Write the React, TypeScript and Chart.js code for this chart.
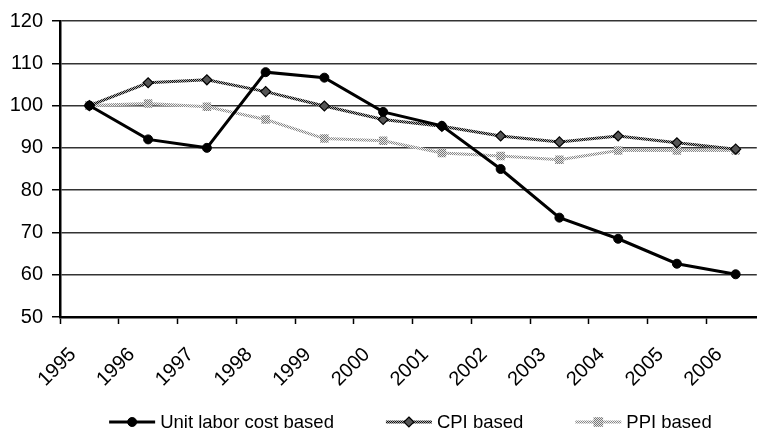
import React, { useEffect, useRef } from "react";
import { Chart, registerables } from "chart.js";

Chart.register(...registerables);

const YEARS = [1995, 1996, 1997, 1998, 1999, 2000, 2001, 2002, 2003, 2004, 2005, 2006];
const TICK_LABELS = ["1995", "1996", "1997", "1998", "1999", "2000", "2001", "2002", "2003", "2004", "2005", "2006"];
const UNIT_LABOR = [100, 92.0, 90.0, 107.9, 106.6, 98.5, 95.2, 85.0, 73.5, 68.5, 62.6, 60.1];
const CPI = [100, 105.4, 106.1, 103.3, 99.9, 96.7, 95.1, 92.8, 91.4, 92.8, 91.2, 89.7];
const PPI = [100, 100.5, 99.7, 96.7, 92.2, 91.7, 88.8, 88.1, 87.2, 89.4, 89.4, 89.4];
const SERIES_NAMES = ["Unit labor cost based", "CPI based", "PPI based"];

const FONT = "'Liberation Sans', Arial, sans-serif";
const X_MIN = 1995;
const X_MAX = 2006.86;

function makePattern(a: string, b: string): CanvasPattern | string {
  const c = document.createElement("canvas");
  c.width = 2;
  c.height = 2;
  const g = c.getContext("2d");
  if (!g) return a;
  g.fillStyle = b;
  g.fillRect(0, 0, 2, 2);
  g.fillStyle = a;
  g.fillRect(0, 0, 1, 1);
  g.fillRect(1, 1, 1, 1);
  const ctx = document.createElement("canvas").getContext("2d");
  return (ctx && ctx.createPattern(c, "repeat")) || a;
}

export default function App() {
  const ref = useRef<HTMLCanvasElement | null>(null);

  useEffect(() => {
    if (!ref.current) return;
    const cpiPat = makePattern("#111", "#aaa");
    const ppiPat = makePattern("#888", "#f2f2f2");

    const toPts = (vals: number[]) => vals.map((v, i) => ({ x: YEARS[i] + 0.5, y: v }));

    const markers = ["circle", "diamond", "square"];

    const legendPlugin = {
      id: "customLegend",
      afterDraw(chart: any) {
        const ctx = chart.ctx as CanvasRenderingContext2D;
        const area = chart.chartArea;
        ctx.save();
        ctx.font = `18.5px ${FONT}`;
        const lineW = 46;
        const gapText = 5;
        const gapItem = 52;
        const widths = chart.data.datasets.map((d: any) => ctx.measureText(d.label).width);
        const total =
          widths.reduce((s: number, w: number) => s + lineW + gapText + w, 0) + gapItem * (widths.length - 1);
        let x = (area.left + area.right) / 2 + 2 - total / 2;
        const y = chart.height - 13;
        chart.data.datasets.forEach((d: any, i: number) => {
          ctx.strokeStyle = d.borderColor;
          ctx.lineWidth = d.borderWidth;
          ctx.beginPath();
          ctx.moveTo(x, y);
          ctx.lineTo(x + lineW, y);
          ctx.stroke();
          const cx = x + lineW / 2;
          ctx.fillStyle = d.pointBackgroundColor;
          ctx.strokeStyle = d.pointBorderColor;
          ctx.lineWidth = d.pointBorderWidth;
          ctx.beginPath();
          const r = d.pointRadius;
          if (markers[i] === "circle") {
            ctx.arc(cx, y, r, 0, Math.PI * 2);
          } else if (markers[i] === "diamond") {
            ctx.moveTo(cx, y - r);
            ctx.lineTo(cx + r, y);
            ctx.lineTo(cx, y + r);
            ctx.lineTo(cx - r, y);
            ctx.closePath();
          } else {
            ctx.rect(cx - r * 0.8, y - r * 0.8, r * 1.6, r * 1.6);
          }
          ctx.fill();
          if (d.pointBorderWidth > 0) ctx.stroke();
          ctx.fillStyle = "#000";
          ctx.textBaseline = "middle";
          ctx.textAlign = "left";
          ctx.fillText(d.label, x + lineW + gapText, y + 1);
          x += lineW + gapText + widths[i] + gapItem;
        });
        ctx.restore();
      },
    };

    const chart = new Chart(ref.current, {
      type: "line",
      data: {
        datasets: [
          {
            label: SERIES_NAMES[0],
            data: toPts(UNIT_LABOR),
            borderColor: "#000",
            borderWidth: 3,
            pointStyle: "circle",
            pointRadius: 4.5,
            pointBackgroundColor: "#000",
            pointBorderColor: "#000",
            pointBorderWidth: 1,
            tension: 0,
          },
          {
            label: SERIES_NAMES[1],
            data: toPts(CPI),
            borderColor: cpiPat as any,
            borderWidth: 3,
            pointStyle: "rectRot",
            pointRadius: 5,
            pointBackgroundColor: "#555",
            pointBorderColor: "#000",
            pointBorderWidth: 1.2,
            tension: 0,
          },
          {
            label: SERIES_NAMES[2],
            data: toPts(PPI),
            borderColor: ppiPat as any,
            borderWidth: 3,
            pointStyle: "rect",
            pointRadius: 6,
            pointBackgroundColor: makePattern("#777", "#e6e6e6") as any,
            pointBorderColor: "#999",
            pointBorderWidth: 0,
            tension: 0,
          },
        ],
      },
      options: {
        responsive: false,
        animation: false,
        layout: { padding: { top: 16, right: 0, left: 0, bottom: 35 } },
        plugins: {
          legend: { display: false },
          tooltip: { enabled: false },
        },
        scales: {
          x: {
            type: "linear",
            min: X_MIN,
            max: X_MAX,
            clip: false,
            afterBuildTicks: (scale: any) => {
              scale.ticks = YEARS.map((v) => ({ value: v }));
            },
            afterFit: (scale: any) => {
              scale.height = 83;
            },
            ticks: {
              autoSkip: false,
              maxRotation: 45,
              minRotation: 45,
              padding: 19,
              labelOffset: 13,
              color: "#000",
              font: { family: FONT, size: 20 },
              callback: (v: any) => {
                const i = YEARS.indexOf(Number(v));
                return i >= 0 ? TICK_LABELS[i] : "";
              },
            },
            grid: {
              display: true,
              drawOnChartArea: false,
              drawTicks: true,
              tickLength: 7,
              tickColor: "#000",
              tickWidth: 1.5,
            },
            border: { display: true, color: "#000", width: 2.5 },
          },
          y: {
            min: 50,
            max: 120,
            afterFit: (scale: any) => {
              scale.width = 60;
            },
            ticks: {
              stepSize: 10,
              padding: 9,
              color: "#000",
              font: { family: FONT, size: 20 },
            },
            grid: {
              color: "#333",
              lineWidth: 1.5,
              drawTicks: true,
              tickLength: 8,
              tickColor: "#000",
            },
            border: { display: true, color: "#000", width: 2.5 },
          },
        },
      } as any,
      plugins: [legendPlugin],
    });
    return () => chart.destroy();
  }, []);

  return (
    <div style={{ position: "fixed", left: 0, top: 0, width: 763, height: 435, background: "#fff" }}>
      <canvas ref={ref} width={763} height={435} style={{ display: "block" }} />
    </div>
  );
}
